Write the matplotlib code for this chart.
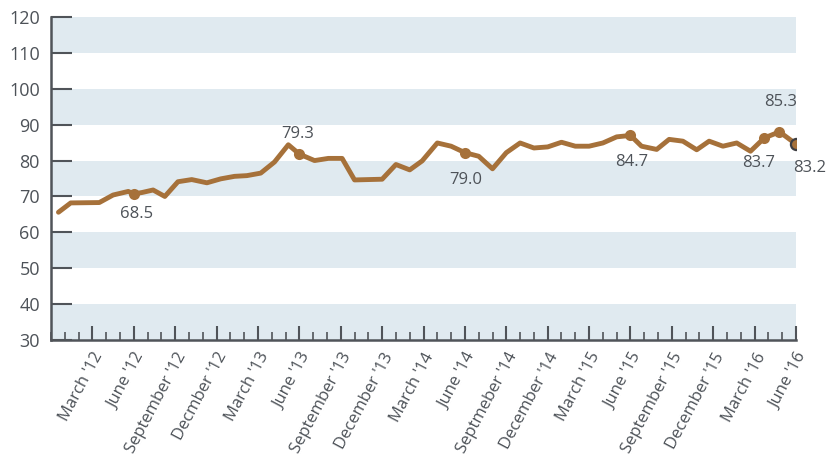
import matplotlib
matplotlib.use('Agg')
import matplotlib.pyplot as plt
from matplotlib.ticker import FixedLocator, MultipleLocator

plt.rcParams['font.family'] = ['Open Sans', 'DejaVu Sans']

# mes relativo a enero 2012 (0 = Jan '12)
months = [-0.46, 0.43, 2.5, 3.5, 4.6, 5.0, 5.6, 6.4, 7.25, 8.2, 9.2, 10.3, 11.3, 12.3,
          13.2, 14.2, 15.2, 16.2, 17.0, 18.1, 19.1, 20.1, 21.0, 23.0, 24.0, 25.0, 25.9,
          27.0, 28.0, 29.0, 30.0, 31.0, 32.0, 33.0, 34.0, 35.0, 36.0, 37.0, 38.0, 39.0,
          40.0, 41.0, 41.8, 42.9, 43.8, 44.8, 45.8, 46.7, 47.7, 48.7, 49.7, 50.7, 51.8,
          52.4, 53.0]
values = [65.6, 68.2, 68.3, 70.4, 71.4, 70.7, 71.1, 71.8, 70.0, 74.1, 74.7, 73.8, 74.9, 75.6,
          75.8, 76.5, 79.6, 84.4, 81.8, 80.0, 80.6, 80.6, 74.6, 74.8, 78.9, 77.4, 79.9,
          84.9, 84.0, 82.2, 81.2, 77.7, 82.2, 84.9, 83.5, 83.8, 85.1, 84.0, 84.0, 84.9,
          86.6, 87.0, 84.0, 83.1, 85.9, 85.4, 83.0, 85.4, 84.0, 84.9, 82.6, 86.3, 88.0,
          86.3, 84.6]

# puntos destacados: indice en la serie, texto, desplazamiento del texto (px)
marked_idx = [5, 18, 29, 41, 51, 52, 54]
marked_labels = ['68.5', '79.3', '79.0', '84.7', '83.7', '85.3', '83.2']
label_offsets = [(3, -20), (-2, 20), (1, -27), (1, -27), (-6, -25), (1, 30), (14, -24)]

tick_months = list(range(2, 54, 3))
tick_labels = ["March '12", "June '12", "September '12", "Decmber '12",
               "March '13", "June '13", "September '13", "December '13",
               "March '14", "June '14", "Septmeber '14", "December '14",
               "March '15", "June '15", "September '15", "December '15",
               "March '16", "June '16"]

line_col = '#A6713A'
text_col = '#4D5258'
axis_col = '#505459'
band_col = '#E0EAF0'

fig = plt.figure(figsize=(8.28, 4.69), dpi=100)
ax = fig.add_axes([0.0616, 0.275, 0.9614 - 0.0616, 0.9638 - 0.275])

# bandas horizontales
for lo in range(30, 120, 20):
    ax.axhspan(lo, lo + 10, color=band_col, lw=0, zorder=0)

ax.plot(months, values, color=line_col, lw=3.5, solid_joinstyle='round',
        solid_capstyle='round', zorder=3)

for i, lab, off in zip(marked_idx, marked_labels, label_offsets):
    last = (i == len(values) - 1)
    ax.plot(months[i], values[i], 'o', ms=8, color=line_col,
            mec='#3E3E42' if last else line_col, mew=1.6 if last else 0, zorder=4)
    ax.annotate(lab, (months[i], values[i]), xytext=off, textcoords='offset pixels',
                ha='center', va='center', fontsize=12, color=text_col)

ax.set_xlim(-1, 53)
ax.set_ylim(30, 120)

ax.yaxis.set_major_locator(MultipleLocator(10))
ax.xaxis.set_major_locator(FixedLocator(tick_months))
ax.xaxis.set_minor_locator(MultipleLocator(1))
ax.set_xticklabels(tick_labels, rotation=62, ha='right', va='top', rotation_mode='anchor')

ax.tick_params(axis='y', direction='in', length=15, width=1.5, colors=axis_col,
               labelcolor=text_col, labelsize=13, pad=8)
ax.tick_params(axis='x', which='major', direction='in', length=10, width=1.5,
               colors=axis_col, labelcolor=text_col, labelsize=12, pad=7)
ax.tick_params(axis='x', which='minor', direction='in', length=6, width=1.2, colors=axis_col)

for s in ['top', 'right']:
    ax.spines[s].set_visible(False)
for s in ['left', 'bottom']:
    ax.spines[s].set_color(axis_col)
    ax.spines[s].set_linewidth(1.8)

fig.savefig('out.png', dpi=100)
